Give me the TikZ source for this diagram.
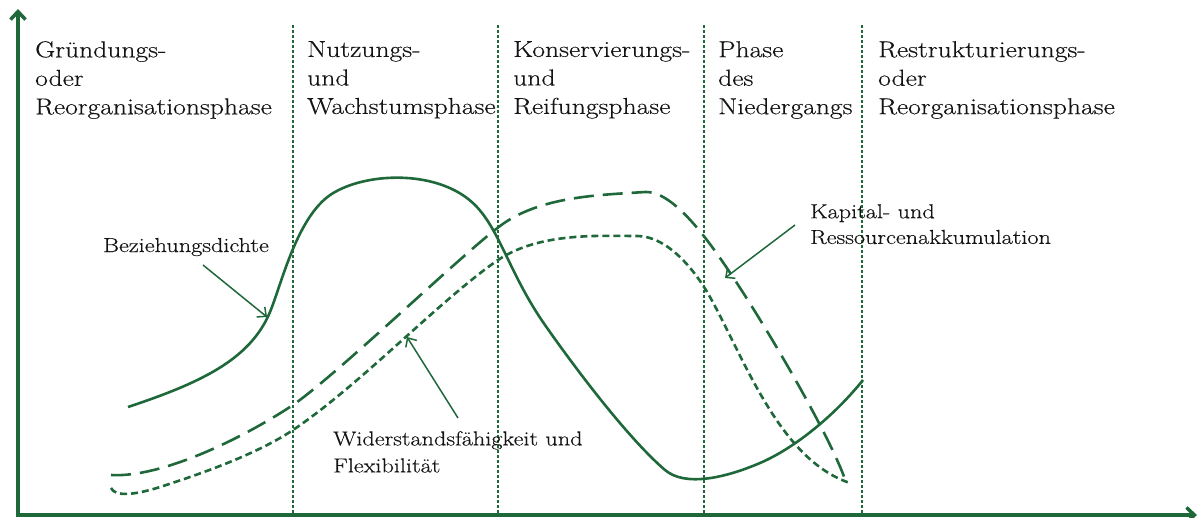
\documentclass[tikz,border=0pt]{standalone}
\usepackage{fontspec}
\setmainfont{Latin Modern Roman}[FakeStretch=1.2,FakeBold=0.35]
\usetikzlibrary{arrows.meta}
\definecolor{grn}{RGB}{30,104,58}
\definecolor{txt}{RGB}{20,20,20}
\begin{document}
\begin{tikzpicture}[x=1pt,y=-1pt,
  axis/.style={grn, line width=3.5pt, line join=miter},
  phaseline/.style={grn, line width=1.2pt, dash pattern=on 3pt off 2pt},
  curveA/.style={grn, line width=2.6pt},
  curveB/.style={grn, line width=2.6pt, dash pattern=on 20pt off 9pt},
  curveC/.style={grn, line width=2.6pt, dash pattern=on 7pt off 4pt},
  pointer/.style={grn, line width=1.5pt, -{Straight Barb[length=7pt,width=13pt]}},
  phase/.style={anchor=north west, inner sep=0pt, align=left, text=txt, font=\fontsize{23}{28.5}\selectfont},
  lab/.style={inner sep=0pt, align=left, text=txt, font=\fontsize{20.2}{26}\selectfont}]
\useasboundingbox (0,0) rectangle (1200,517);

% axes
\coordinate (O) at (18,515);
\coordinate (ytop) at (18,9);
\coordinate (xend) at (1197,515);
\draw[axis, {Straight Barb[length=8pt,width=15pt]}-{Straight Barb[length=8pt,width=15pt]}] (ytop) -- (O) -- (xend);

% phase separators
\foreach \n/\x in {a/293,b/498,c/704,d/862}{
  \coordinate (t\n) at (\x,25);
  \coordinate (b\n) at (\x,513);
  \draw[phaseline] (t\n) -- (b\n);
}

% phase labels
\node[phase] (p1) at (35,41) {Gründungs-\\oder\\Reorganisationsphase};
\node[phase] (p2) at (307,41) {Nutzungs-\\und\\Wachstumsphase};
\node[phase] (p3) at (513,41) {Konservierungs-\\und\\Reifungsphase};
\node[phase] (p4) at (718,41) {Phase\\des\\Niedergangs};
\node[phase] (p5) at (878,41) {Restrukturierungs-\\oder\\Reorganisationsphase};

% Beziehungsdichte (solid)
\draw[curveA] (128,407) .. controls (200,383) and (250,360) .. (270,312)
  .. controls (282,283) and (298,212) .. (335,192)
  .. controls (370,172) and (440,170) .. (475,205)
  .. controls (500,230) and (510,275) .. (545,325)
  .. controls (580,375) and (630,440) .. (665,470)
  .. controls (685,487) and (725,478) .. (760,463)
  .. controls (795,448) and (835,415) .. (863,380);
% Kapital- und Ressourcenakkumulation (long dashes)
\draw[curveB] (111,475) .. controls (160,478) and (240,440) .. (293,405)
  .. controls (340,372) and (460,256) .. (500,226)
  .. controls (540,196) and (600,195) .. (645,192)
  .. controls (665,191) and (690,215) .. (720,258)
  .. controls (760,315) and (830,435) .. (846,482);
% Widerstandsfaehigkeit und Flexibilitaet (short dashes)
\draw[curveC] (111,488) .. controls (115,497) and (135,495) .. (160,487)
  .. controls (210,471) and (260,452) .. (293,430)
  .. controls (360,385) and (440,300) .. (498,260)
  .. controls (540,232) and (600,236) .. (637,236)
  .. controls (665,236) and (692,265) .. (710,297)
  .. controls (745,360) and (780,460) .. (850,483);

% annotations
\node[lab, anchor=base west] (bz) at (103,252) {Beziehungsdichte};
\node[lab, anchor=north west, font=\fontsize{20.2}{27}\selectfont] (wf) at (333,431) {Widerstandsfähigkeit und\\Flexibilität};
\node[lab, anchor=north west, font=\fontsize{20.2}{25.7}\selectfont] (ka) at (810,204) {Kapital- und\\Ressourcenakkumulation};

\coordinate (bzS) at (203,265);
\coordinate (bzE) at (267,317);
\coordinate (wfS) at (458,418);
\coordinate (wfE) at (407,337);
\coordinate (kaS) at (795,225);
\coordinate (kaE) at (725,278);
\draw[pointer] (bzS) -- (bzE);
\draw[pointer] (wfS) -- (wfE);
\draw[pointer] (kaS) -- (kaE);
\end{tikzpicture}
\end{document}
